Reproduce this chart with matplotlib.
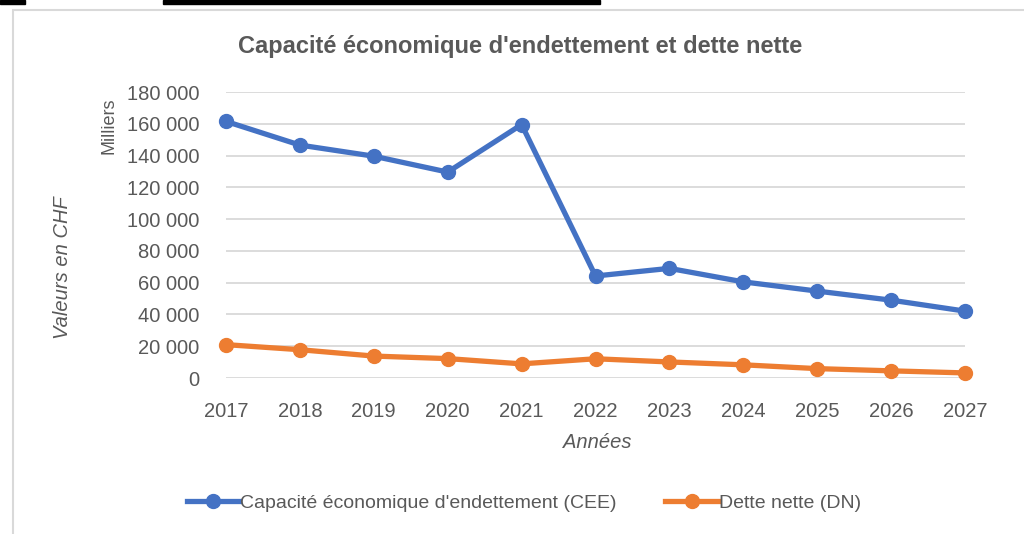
import matplotlib
matplotlib.use("Agg")
import matplotlib.pyplot as plt
from matplotlib.patches import Rectangle
from matplotlib.ticker import FuncFormatter
import matplotlib.font_manager as fm

years = [2017, 2018, 2019, 2020, 2021, 2022, 2023, 2024, 2025, 2026, 2027]
cee = [161500, 146600, 139600, 129600, 159500, 64200, 69000, 60500, 54700, 49000, 42100]
dn = [21000, 17800, 13800, 12200, 8900, 12100, 10100, 8300, 5900, 4500, 3200]
yticks = [0, 20000, 40000, 60000, 80000, 100000, 120000, 140000, 160000, 180000]

names = {f.name for f in fm.fontManager.ttflist}
fam = 'Liberation Sans Narrow' if 'Liberation Sans Narrow' in names else 'Liberation Sans'
plt.rcParams['font.family'] = [fam, 'DejaVu Sans']
txt = '#595959'
blue = '#4472C4'
orange = '#ED7D31'

fig = plt.figure(figsize=(10.24, 5.34), dpi=100)
ax = fig.add_axes([226/1024, 1-378/534, (965-226)/1024, (378-92)/534])

ax.plot(years, cee, color=blue, lw=3.8, marker='o', ms=10, label="Capacité économique d'endettement (CEE)", zorder=3)
ax.plot(years, dn, color=orange, lw=3.8, marker='o', ms=10, label="Dette nette (DN)", zorder=3)

ax.set_xlim(2017, 2027)
ax.set_ylim(0, 180000)
ax.set_yticks(yticks)
ax.set_xticks(years)
ax.yaxis.set_major_formatter(FuncFormatter(lambda v, p: f"{int(v):,}".replace(',', ' ')))
ax.grid(axis='y', color='#d9d9d9', lw=1.3, zorder=0)
ax.tick_params(length=0, labelsize=14.5, labelcolor=txt)
ax.tick_params(axis='y', pad=19)
ax.tick_params(axis='x', pad=17)
for s in ax.spines.values():
    s.set_visible(False)
for l in ax.lines:
    l.set_clip_on(False)

fig.text(597/1024, 1-443/534, 'Années', ha='center', va='center', fontsize=14.5, style='italic', color=txt)
fig.text(62/1024, 1-268/534, 'Valeurs en CHF', ha='center', va='center', rotation=90, fontsize=14.5, style='italic', color=txt)
fig.text(109/1024, 1-126/534, 'Milliers', ha='center', va='center', rotation=90, fontsize=13, color=txt)
fig.text(520/1024, 1-47/534, "Capacité économique d'endettement et dette nette", ha='center', va='center',
         fontsize=17, fontweight='bold', color=txt)

leg = fig.legend(loc='center', bbox_to_anchor=(524/1024, 1-503/534), ncol=2, frameon=False,
                 fontsize=14, labelcolor=txt, handlelength=2.7, handletextpad=0.05, columnspacing=2.5)

# frame and screenshot artifacts
fig.patches.append(Rectangle((13/1024, -0.1), 1.1, (534-10)/534 + 0.1, transform=fig.transFigure,
                             fill=False, edgecolor='#d9d9d9', lw=1.5))
fig.patches.append(Rectangle((0, 1-4/534), 25/1024, 4/534, transform=fig.transFigure, color='black'))
fig.patches.append(Rectangle((163/1024, 1-4/534), (600-163)/1024, 4/534, transform=fig.transFigure, color='black'))

fig.savefig('out.png', dpi=100)
